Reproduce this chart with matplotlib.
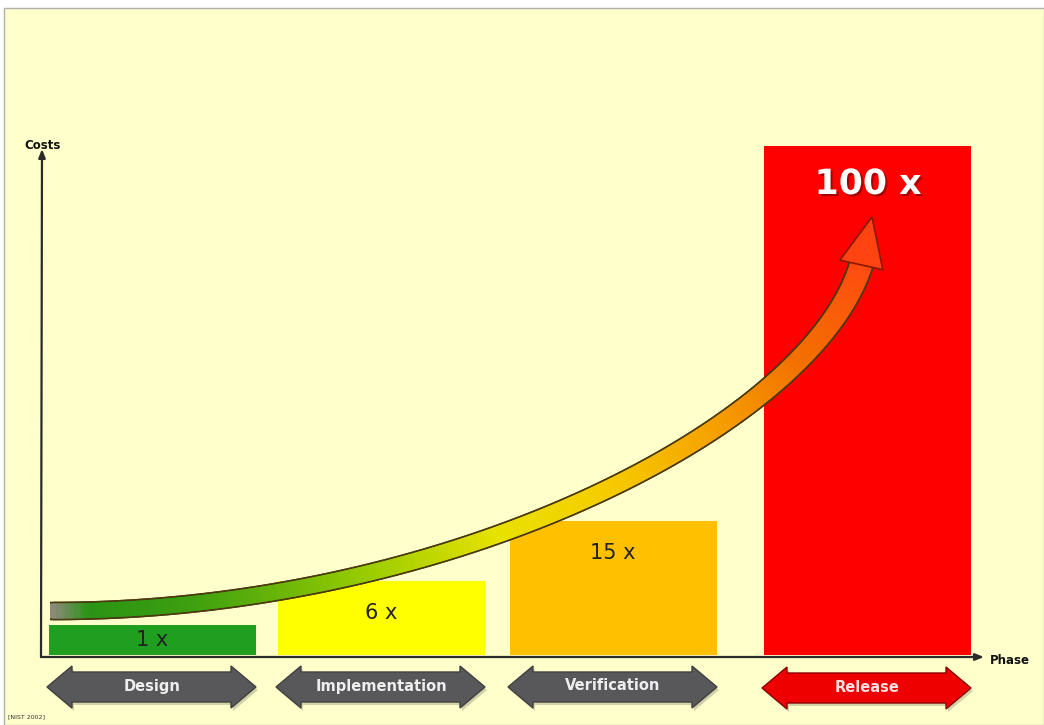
import numpy as np
import matplotlib
matplotlib.use("Agg")
import matplotlib.pyplot as plt
from matplotlib.collections import LineCollection
from matplotlib.colors import LinearSegmentedColormap
from matplotlib.patches import Polygon, Rectangle
import matplotlib.patheffects as pe

# data (bar heights are drawn heights, not to scale)
phases = ["Design", "Implementation", "Verification", "Release"]
cost_labels = ["1 x", "6 x", "15 x", "100 x"]
bar_heights = [30, 74, 134, 509]
bar_colors = ["#1f9e1f", "#ffff00", "#ffc000", "#ff0000"]

# layout in pixel units (y measured upwards)
W, H = 1044, 725
centers = [152, 381, 613, 867]
label_drop = [15, 32, 32, 38]
bar_w = 207
base = 70
origin = (42, 68)

fig = plt.figure(figsize=(W / 100, H / 100), dpi=100, facecolor="white")
ax = fig.add_axes([0, 0, 1, 1])
ax.set_xlim(0, W)
ax.set_ylim(0, H)
ax.axis("off")

# slide background
ax.add_patch(Rectangle((4, 0), W - 4, H - 8, facecolor="#ffffcc",
                       edgecolor="#b0b0b0", lw=1, zorder=0))

# bars
ax.bar(centers, bar_heights, width=bar_w, bottom=base, color=bar_colors,
       edgecolor="none", zorder=2)
for i, lab in enumerate(cost_labels):
    y = base + bar_heights[i] - label_drop[i]
    if i < 3:
        ax.text(centers[i], y, lab, ha="center", va="center", fontsize=15,
                color="#222222", zorder=3)
    else:
        ax.text(centers[i] + 1, y, lab, ha="center", va="center", fontsize=25,
                fontweight="bold", color="white", zorder=6,
                path_effects=[pe.withSimplePatchShadow(offset=(1.5, -1.5),
                                                       shadow_rgbFace="#700000",
                                                       alpha=0.6)])

# axes arrows
ax.annotate("", xy=(origin[0], 576), xytext=(origin[0] - 1, origin[1]),
            arrowprops=dict(arrowstyle="-|>,head_length=0.5,head_width=0.2",
                            color="#2a2a2a", lw=1.6, shrinkA=0, shrinkB=0),
            zorder=4)
ax.annotate("", xy=(984, origin[1]), xytext=(origin[0] - 1, origin[1]),
            arrowprops=dict(arrowstyle="-|>,head_length=0.5,head_width=0.2",
                            color="#2a2a2a", lw=1.6, shrinkA=0, shrinkB=0),
            zorder=4)
ax.text(43, 580, "Costs", ha="center", va="center", fontsize=8.5,
        fontweight="bold", color="#111111")
ax.text(990, 64, "Phase", ha="left", va="center", fontsize=8.5,
        fontweight="bold", color="#111111")

# growth curve (cubic bezier) with colour gradient
P = np.array([[50, 114], [450, 113], [815, 300], [862, 463]], float)
t = np.linspace(0, 1, 400)[:, None]
pts = ((1 - t) ** 3 * P[0] + 3 * (1 - t) ** 2 * t * P[1]
       + 3 * (1 - t) * t ** 2 * P[2] + t ** 3 * P[3])
# overlapping segments so butt caps leave no seams
segs = np.stack([pts[:-2], pts[2:]], axis=1)
tt = t[:-2, 0]
widths = (15 + 7 * tt ** 2) * 0.72
grad = LinearSegmentedColormap.from_list("grow", [
    (0.0, "#8a8a78"), (0.03, "#2a9414"), (0.12, "#3fa010"),
    (0.27, "#98cc00"), (0.4, "#e8e200"), (0.52, "#f6cc00"),
    (0.66, "#f5a000"), (0.8, "#f37000"), (1.0, "#ff4a12")])
outline = LineCollection(segs, linewidths=widths + 2.6, colors="#4a3a10",
                         capstyle="butt", zorder=4)
ax.add_collection(outline)
body = LineCollection(segs, linewidths=widths, colors=grad(tt),
                      capstyle="butt", zorder=5)
ax.add_collection(body)

# arrow head
tip = np.array([872, 508])
d = (tip - P[3]) / np.linalg.norm(tip - P[3])
n = np.array([-d[1], d[0]])
b = P[3] - d * 3
head = Polygon([b + n * 22, tip, b - n * 22], closed=True,
               facecolor="#ff4412", edgecolor="#8a1800", lw=1.2, zorder=6)
ax.add_patch(head)

# phase double arrows
def phase_arrow(xl, xr, yc, face, edge):
    hl, bh, hh = 25, 15, 21
    poly = [(xl, yc), (xl + hl, yc + hh), (xl + hl, yc + bh), (xr - hl, yc + bh),
            (xr - hl, yc + hh), (xr, yc), (xr - hl, yc - hh), (xr - hl, yc - bh),
            (xl + hl, yc - bh), (xl + hl, yc - hh)]
    shadow = [(x + 2, y - 3) for x, y in poly]
    ax.add_patch(Polygon(shadow, closed=True, facecolor="#000000", alpha=0.18,
                         edgecolor="none", zorder=2))
    ax.add_patch(Polygon(poly, closed=True, facecolor=face, edgecolor=edge,
                         lw=1, zorder=3))

arrow_faces = ["#58585a", "#58585a", "#58585a", "#ee0000"]
arrow_edges = ["#404040", "#404040", "#404040", "#8a0000"]
text_cols = ["#eeeeee", "#eeeeee", "#eeeeee", "#ffe0e0"]
for i, ph in enumerate(phases):
    yc = 38 if i < 3 else 37
    phase_arrow(centers[i] - 105, centers[i] + 104, yc, arrow_faces[i],
                arrow_edges[i])
    ax.text(centers[i], yc + 1, ph, ha="center", va="center", fontsize=10.5,
            fontweight="bold", color=text_cols[i], zorder=4)

ax.text(8, 8, "[NIST 2002]", ha="left", va="center", fontsize=4.5,
        color="#333333")

fig.savefig("out.png", dpi=100, facecolor=fig.get_facecolor())
